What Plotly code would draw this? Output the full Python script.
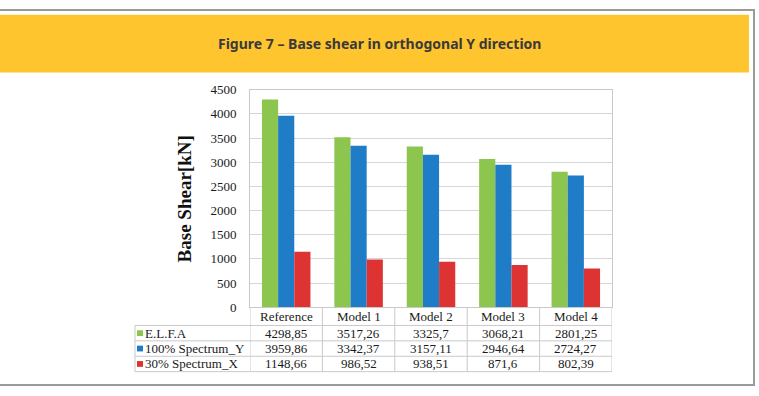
import plotly.graph_objects as go

categories = ["Reference", "Model 1", "Model 2", "Model 3", "Model 4"]
series_names = ["E.L.F.A", "100% Spectrum_Y", "30% Spectrum_X"]
elfa = [4298.85, 3517.26, 3325.7, 3068.21, 2801.25]
spec_y = [3959.86, 3342.37, 3157.11, 2946.64, 2724.27]
spec_x = [1148.66, 986.52, 938.51, 871.6, 802.39]
table_labels = [
    ["4298,85", "3517,26", "3325,7", "3068,21", "2801,25"],
    ["3959,86", "3342,37", "3157,11", "2946,64", "2724,27"],
    ["1148,66", "986,52", "938,51", "871,6", "802,39"],
]
y_ticks = [0, 500, 1000, 1500, 2000, 2500, 3000, 3500, 4000, 4500]
title_text = "Figure 7 – Base shear in orthogonal Y direction"
y_title = "Base Shear[kN]"

colors = ["#8cc64e", "#1f7cc6", "#dd3333"]
series = [elfa, spec_y, spec_x]

W, H = 759, 396
def px(x):
    return x / W
def py(y):
    return 1 - y / H

fig = go.Figure()
for name, vals, col in zip(series_names, series, colors):
    fig.add_trace(go.Bar(x=categories, y=vals, name=name,
                         marker=dict(color=col, line=dict(width=0))))

serif = "Liberation Serif, Times New Roman, serif"
grid = "#c9c9c9"

shapes = []
annotations = []

def ann(text, x, y, xref="paper", xanchor="center", font=None, **kw):
    d = dict(text=text, xref=xref, yref="paper", x=x, y=y, showarrow=False,
             xanchor=xanchor, yanchor="middle", font=font)
    d.update(kw)
    annotations.append(d)

# outer frame and banner
shapes.append(dict(type="rect", xref="paper", yref="paper",
                   x0=px(-5), x1=px(754), y0=py(393), y1=py(3),
                   line=dict(color="#9a9a9a", width=2), fillcolor="rgba(0,0,0,0)", layer="below"))
shapes.append(dict(type="rect", xref="paper", yref="paper",
                   x0=px(0), x1=px(749), y0=py(68), y1=py(8),
                   line=dict(width=0), fillcolor="#fec52f", layer="below"))
ann(title_text, px(379), py(38),
    font=dict(family="Noto Sans", size=14, color="#3a3a3a", weight="bold"))

# y-axis title
ann("<b>" + y_title + "</b>", px(184), py(200), textangle=-90,
    font=dict(family=serif, size=19, color="#111"))

# table geometry (pixel rows)
tbl_top, hdr_bot = 313, 331
row_edges = [331, 347, 363, 379]
left_x = 135

# vertical dividers at category boundaries
for i in range(len(categories) + 1):
    shapes.append(dict(type="line", xref="x", yref="paper",
                       x0=i - 0.5, x1=i - 0.5, y0=py(row_edges[-1]), y1=py(tbl_top),
                       line=dict(color=grid, width=1)))
# horizontal lines
for yy in row_edges:
    shapes.append(dict(type="line", xref="paper", yref="paper",
                       x0=px(left_x), x1=px(612), y0=py(yy), y1=py(yy),
                       line=dict(color=grid, width=1)))
shapes.append(dict(type="line", xref="paper", yref="paper",
                   x0=px(left_x), x1=px(left_x), y0=py(row_edges[-1]), y1=py(hdr_bot),
                   line=dict(color=grid, width=1)))

tfont = dict(family=serif, size=13, color="#1a1a1a")
# header labels
for c in categories:
    ann(c, c, py(322), xref="x", font=tfont)
# rows
for r, (name, labs, col) in enumerate(zip(series_names, table_labels, colors)):
    yc = (row_edges[r] + row_edges[r + 1]) / 2
    shapes.append(dict(type="rect", xref="paper", yref="paper",
                       x0=px(137), x1=px(143), y0=py(yc + 3), y1=py(yc - 3),
                       line=dict(width=0), fillcolor=col))
    ann(name, px(143), py(yc), xanchor="left", font=tfont)
    for c, t in zip(categories, labs):
        ann(t, c, py(yc), xref="x", font=tfont)

fig.update_layout(
    width=W, height=H,
    margin=dict(l=0, r=0, t=0, b=0),
    paper_bgcolor="white", plot_bgcolor="white",
    showlegend=False,
    barmode="group", bargap=0.33, bargroupgap=0,
    xaxis=dict(domain=[px(250), px(612)], range=[-0.5, 4.5], showticklabels=False,
               showline=True, linecolor=grid, mirror=True, ticks="", showgrid=False),
    yaxis=dict(domain=[py(312), py(86)], range=[0, 4500], tickvals=y_ticks,
               showline=True, linecolor=grid, mirror=True, gridcolor="#d6d6d6",
               ticks="", ticklabelstandoff=10,
               tickfont=dict(family=serif, size=13, color="#1a1a1a"), zeroline=False),
    shapes=shapes, annotations=annotations,
)

fig.write_html("out.html")
